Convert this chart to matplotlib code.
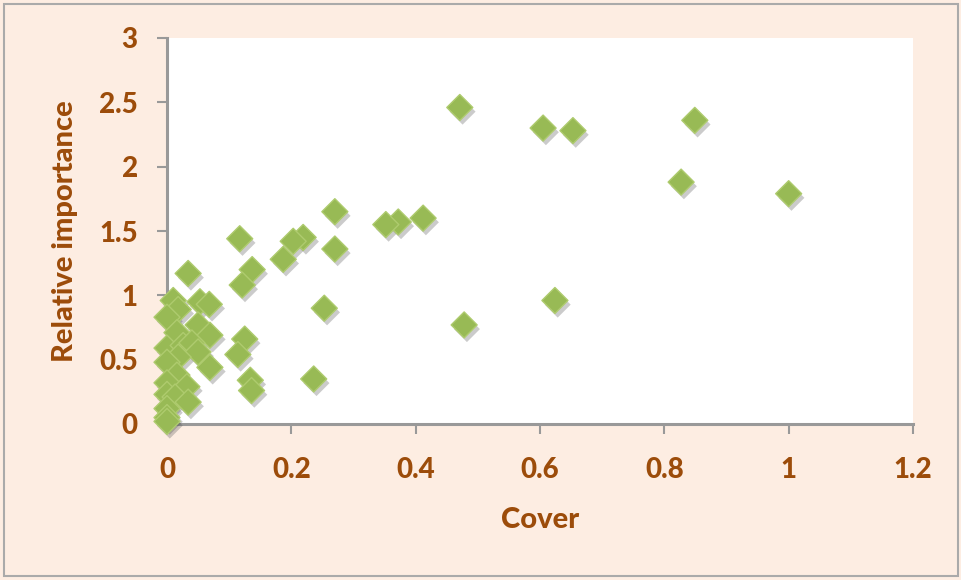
import matplotlib
matplotlib.use('Agg')
import matplotlib.pyplot as plt
import matplotlib.patheffects as pe
from matplotlib.patches import Rectangle

# ── Data ──────────────────────────────────────────────────────────────────────
cover = [0.471, 0.605, 0.653, 0.849, 0.827, 1.000, 0.624, 0.478,
         0.412, 0.372, 0.352, 0.270, 0.270, 0.253, 0.236, 0.219,
         0.203, 0.187, 0.137, 0.121, 0.117, 0.125, 0.114, 0.134,
         0.136, 0.034, 0.010, 0.018, 0.000, 0.053, 0.068, 0.050,
         0.016, 0.069, 0.000, 0.026, 0.040, 0.050, 0.018, 0.000,
         0.069, 0.016, 0.000, 0.032, 0.000, 0.013, 0.034, 0.000,
         0.000, 0.000]
importance = [2.46, 2.30, 2.28, 2.36, 1.88, 1.79, 0.96, 0.77,
              1.60, 1.57, 1.55, 1.65, 1.36, 0.90, 0.35, 1.45,
              1.42, 1.28, 1.20, 1.08, 1.44, 0.66, 0.54, 0.34,
              0.26, 1.17, 0.96, 0.89, 0.83, 0.95, 0.93, 0.77,
              0.71, 0.69, 0.59, 0.61, 0.63, 0.56, 0.52, 0.48,
              0.44, 0.38, 0.32, 0.29, 0.23, 0.21, 0.17, 0.12,
              0.05, 0.02]

x_ticks = [0, 0.2, 0.4, 0.6, 0.8, 1, 1.2]
x_tick_labels = ['0', '0.2', '0.4', '0.6', '0.8', '1', '1.2']
y_ticks = [0, 0.5, 1, 1.5, 2, 2.5, 3]
y_tick_labels = ['0', '0.5', '1', '1.5', '2', '2.5', '3']

# ── Style ─────────────────────────────────────────────────────────────────────
BG = '#FDEDE2'
TXT = '#9C4C0A'
AXIS = '#999999'
plt.rcParams['font.family'] = ['Lato', 'DejaVu Sans']

fig = plt.figure(figsize=(9.62, 5.80), dpi=100, facecolor=BG)
fig.patches.append(Rectangle((4 / 962, 4 / 580), 954 / 962, 572 / 580,
                             transform=fig.transFigure, fill=False,
                             edgecolor='#AAAAAA', linewidth=1.5))

ax = fig.add_axes([167 / 962, 156 / 580, 746 / 962, 386 / 580])
ax.set_facecolor('white')

ax.scatter(cover, importance, marker='D', s=175, facecolor='#98BA55',
           edgecolor='#AECB6E', linewidth=1.0, clip_on=False, zorder=3,
           path_effects=[pe.SimplePatchShadow(offset=(2, -3),
                                              shadow_rgbFace='#555555',
                                              alpha=0.3),
                         pe.Normal()])

ax.set_xlim(0, 1.2)
ax.set_ylim(0, 3)
ax.set_xticks(x_ticks)
ax.set_xticklabels(x_tick_labels)
ax.set_yticks(y_ticks)
ax.set_yticklabels(y_tick_labels)

for side in ('top', 'right'):
    ax.spines[side].set_visible(False)
for side in ('left', 'bottom'):
    ax.spines[side].set_color(AXIS)
    ax.spines[side].set_linewidth(2.2)

ax.tick_params(axis='both', direction='out', length=7, width=1.5,
               color=AXIS, labelcolor=TXT, labelsize=20)
ax.tick_params(axis='x', pad=17)
ax.tick_params(axis='y', pad=14)
for lbl in ax.get_xticklabels() + ax.get_yticklabels():
    lbl.set_fontweight('black')

ax.set_xlabel('Cover', fontsize=21, fontweight='black', color=TXT, labelpad=17)
ax.set_ylabel('Relative importance', fontsize=21, fontweight='black', color=TXT,
              labelpad=15)

fig.savefig('out.png', dpi=100, facecolor=BG)
